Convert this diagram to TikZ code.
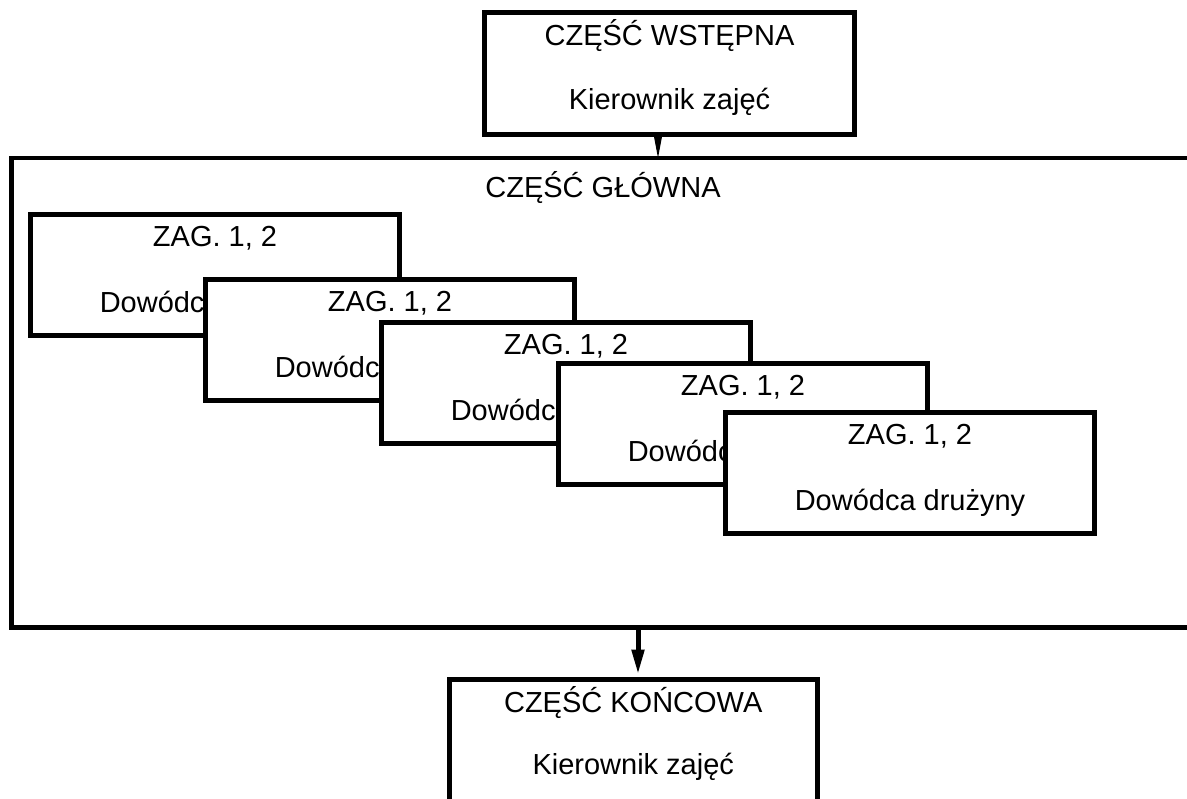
\documentclass[tikz,border=0pt]{standalone}
\usepackage{fontspec}
\setmainfont{Liberation Sans}
\usetikzlibrary{arrows.meta}
\begin{document}
\begin{tikzpicture}[x=1pt,y=-1pt,
  frame/.style={draw, line width=5pt, fill=white, inner sep=0pt, outer sep=0pt, anchor=north west},
  sub/.style={frame, minimum width=369pt, minimum height=121pt},
  lbl/.style={anchor=base, inner sep=0pt, outer sep=0pt, font=\fontsize{29}{34}\selectfont}]
\useasboundingbox (0,0) rectangle (1187,799);
% main part frame (runs past the right edge)
\node[frame, line width=4.5pt, fill=none, minimum width=1200pt, minimum height=469.5pt] (main) at (11.5,158) {};
\node[lbl] (mainT) at (603,198) {CZĘŚĆ GŁÓWNA};
% top box
\node[frame, minimum width=370pt, minimum height=122pt] (top) at (484.5,12.5) {};
\node[lbl] (topA) at ([yshift=-33pt]top.north) {CZĘŚĆ WSTĘPNA};
\node[lbl] (topB) at ([yshift=-97pt]top.north) {Kierownik zajęć};
% bottom box
\node[frame, minimum width=367.5pt, minimum height=122pt] (bot) at (449.5,679.5) {};
\node[lbl] (botA) at ([yshift=-33pt]bot.north) {CZĘŚĆ KOŃCOWA};
\node[lbl] (botB) at ([yshift=-95pt]bot.north) {Kierownik zajęć};
% stacked boxes
\foreach \i/\x/\y in {1/30.5/214.5, 2/205.5/279.5, 3/381.5/322.5, 4/558.5/363.5, 5/725.5/412.5}{
  \node[sub] (b\i) at (\x,\y) {};
  \node[lbl] (b\i A) at ([yshift=-32.5pt]b\i.north) {ZAG. 1, 2};
  \node[lbl] (b\i B) at ([yshift=-98pt]b\i.north) {Dowódca drużyny};
}
% connectors
\coordinate (ta) at (658,0);
\coordinate (ba) at (638,0);
\draw[line width=1pt, -{Triangle[length=22pt,width=8pt]}] (top.south -| ta) -- (main.north -| ta);
\draw[line width=5pt, shorten >=5pt, -{Triangle[length=25pt,width=12pt]}] (main.south -| ba) -- (bot.north -| ba);
\end{tikzpicture}
\end{document}
